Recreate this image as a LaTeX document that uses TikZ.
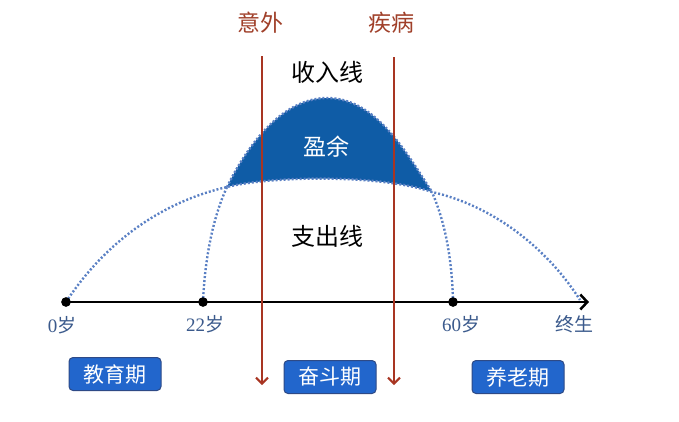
\documentclass[tikz,border=0pt]{standalone}
\usepackage{fontspec}
\setmainfont{Liberation Serif}
\newfontfamily\cjk{Noto Sans CJK SC}
\usetikzlibrary{arrows.meta}
\definecolor{dotblue}{HTML}{5A80C4}
\definecolor{fillblue}{HTML}{0F5CA6}
\definecolor{boxblue}{HTML}{2266CC}
\definecolor{boxedge}{HTML}{2E4A86}
\definecolor{eventred}{HTML}{A83522}
\definecolor{eventtext}{HTML}{A0402A}
\definecolor{agelbl}{HTML}{3B5A8C}
\begin{document}
\begin{tikzpicture}[x=1pt,y=-1pt,
 dotline/.style={dotblue, line width=2.4pt, dash pattern=on 2pt off 2pt},
 agedot/.style={circle, fill=black, inner sep=0pt, minimum size=9pt},
 agelabel/.style={text=agelbl, font=\fontsize{19}{21}\selectfont, inner sep=0pt},
 bigtext/.style={font=\cjk\fontsize{23}{26}\selectfont, inner sep=0pt},
 phasebox/.style={draw=boxedge, fill=boxblue, rounded corners=4pt, line width=1pt, minimum width=92pt, minimum height=33pt, inner sep=0pt, text=white, font=\cjk\fontsize{21}{24}\selectfont},
 eventline/.style={eventred, line width=2pt, -{Straight Barb[length=6pt,width=12pt]}},
 axisline/.style={black, line width=2.5pt, -{Straight Barb[length=7pt,width=15pt]}}]

\useasboundingbox (0,0) rectangle (679,421);

\coordinate (L) at (227,187);
\coordinate (R) at (432,192);
\coordinate (P) at (327,98);
\coordinate (E) at (580,300);
\coordinate (axisend) at (589,302);

% surplus region
\fill[fillblue] (L) .. controls (245,150) and (280,98) .. (P) .. controls (375,98) and (405,150) .. (R) .. controls (380,174) and (270,176) .. (L) -- cycle;

\node[agedot] (a0) at (66,302) {};
\node[agedot] (a22) at (203,302) {};
\node[agedot] (a60) at (453,302) {};

% axis
\draw[axisline] (a0.center) -- (axisend);

% dotted curves
\draw[dotline] (L) .. controls (245,150) and (280,98) .. (P) .. controls (375,98) and (405,150) .. (R);
\draw[dotline] (a0.center) .. controls (110,235) and (170,200) .. (L) .. controls (270,176) and (380,174) .. (R) .. controls (490,205) and (545,245) .. (E);
\draw[dotline] (a22.center) .. controls (205,255) and (214,215) .. (L);
\draw[dotline] (a60.center) .. controls (452,255) and (444,220) .. (R);

% redraw dots on top
\fill (a0) circle (4.8pt);
\fill (a22) circle (4.8pt);
\fill (a60) circle (4.8pt);

% age labels
\node[agelabel] (l0) at (62,325) {0{\cjk 岁}};
\node[agelabel] (l22) at (205,324) {22{\cjk 岁}};
\node[agelabel] (l60) at (461,324) {60{\cjk 岁}};
\node[agelabel] (lend) at (574,324) {\cjk 终生};

% texts
\node[bigtext, text=black, font=\cjk\fontsize{24}{27}\selectfont] (income) at (327,72) {收入线};
\node[bigtext, text=white] (surplus) at (326,147) {盈余};
\node[bigtext, text=black, font=\cjk\fontsize{24}{27}\selectfont] (expense) at (327,236) {支出线};

% events
\node[bigtext, text=eventtext] (acc) at (260,23) {意外};
\node[bigtext, text=eventtext] (ill) at (391,23) {疾病};
\coordinate (e1top) at (262,56);
\coordinate (e1bot) at (262,385);
\coordinate (e2top) at (394,57);
\coordinate (e2bot) at (394,385);
\draw[eventline] (e1top) -- (e1bot);
\draw[eventline] (e2top) -- (e2bot);

% phases
\node[phasebox] (edu) at (115,374) {教育期};
\node[phasebox] (work) at (330,377) {奋斗期};
\node[phasebox] (old) at (518,377) {养老期};
\end{tikzpicture}
\end{document}
